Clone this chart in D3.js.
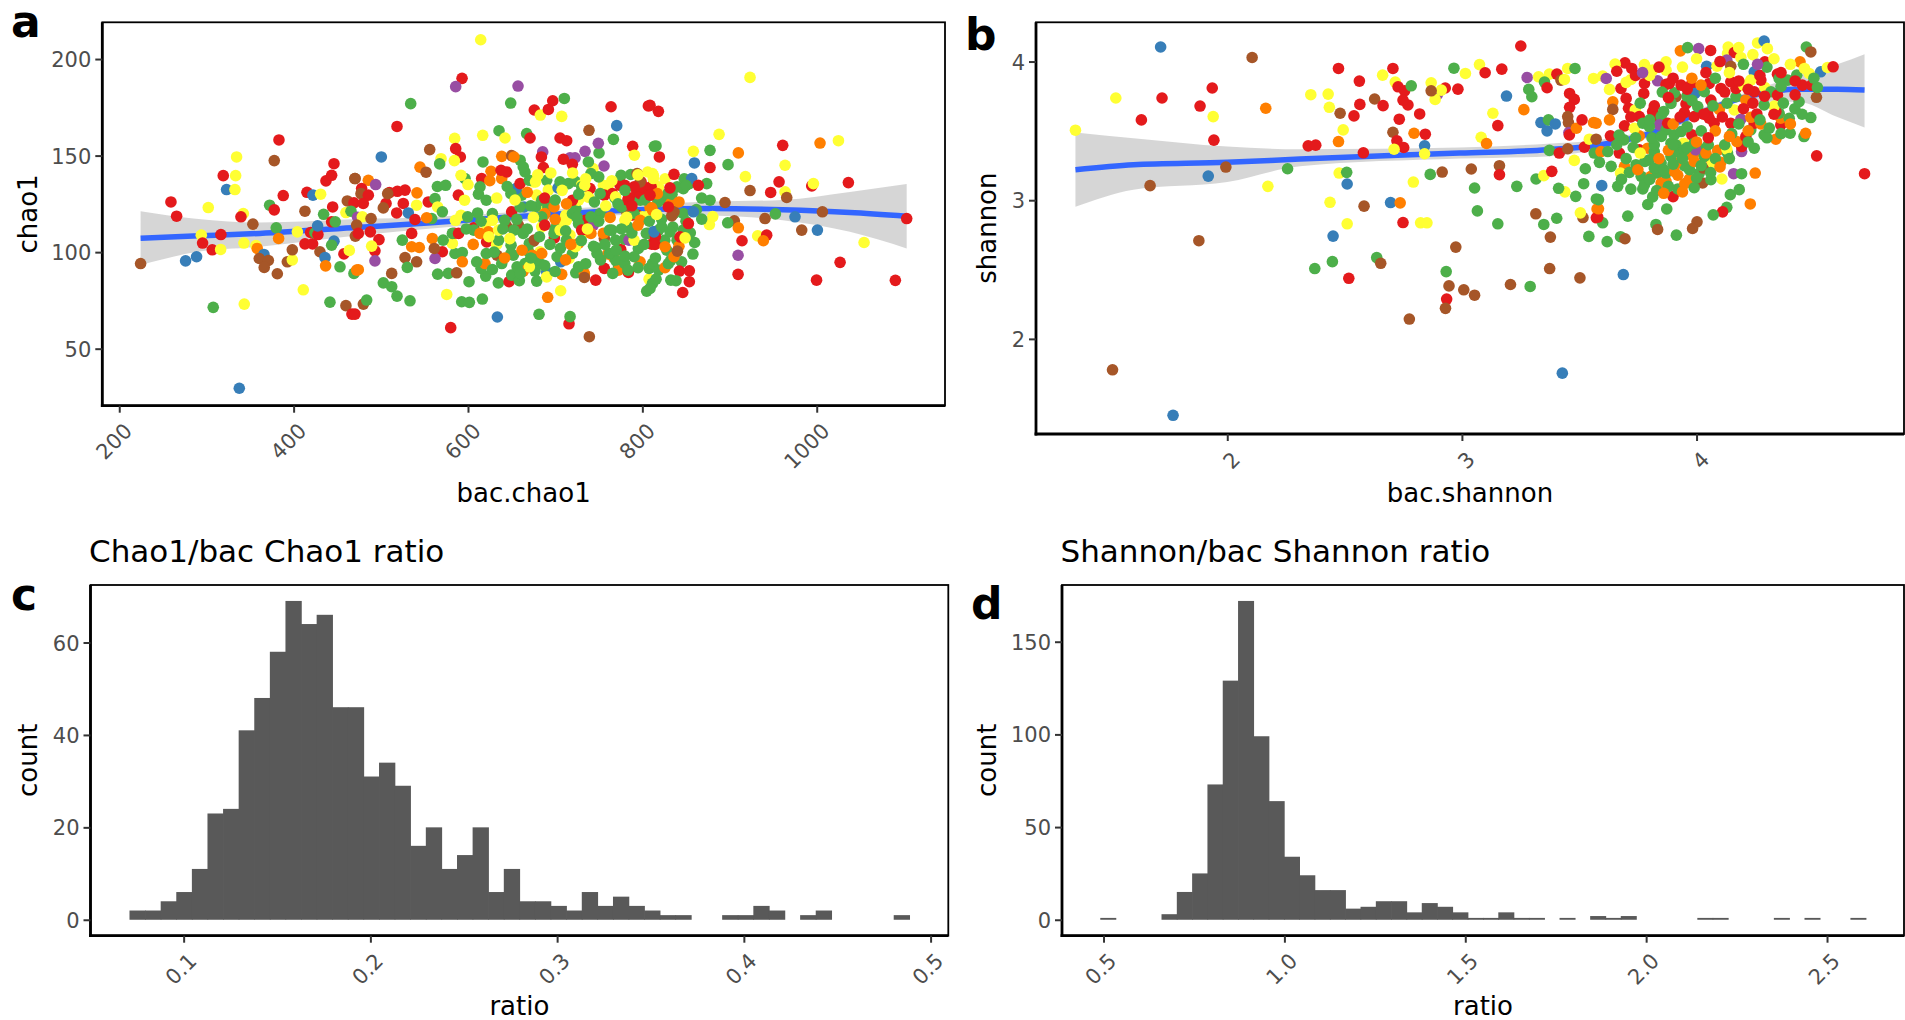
<!DOCTYPE html>
<html>
<head>
<meta charset="utf-8">
<script src="https://cdn.jsdelivr.net/npm/d3@7"></script>
<style>
  body { margin: 0; background: #fff; }
  svg { display: block; }
</style>
</head>
<body>
<svg id="fig" width="1905" height="1020"></svg>
<script>
// Sample groups share the ColorBrewer Set1 colours
const groupColors = ["#E41A1C", "#377EB8", "#4DAF4A", "#984EA3", "#FF7F00", "#FFFF33", "#A65628"];

// Panel a: [bac.chao1, chao1, group]
const chaoPoints = [
[224.5,94.1,6],[259.3,126.0,0],[265.8,118.6,0],[276.1,95.5,1],[288.7,97.6,1],[302.1,123.1,5],[294.1,108.8,5],[295.6,104.7,0],[306.7,101.2,0],[316.3,101.4,5],[316.6,109.1,0],[307.8,71.4,2],[319.3,139.6,0],[323.1,132.4,1],[334.6,149.3,5],[333.5,139.6,5],[332.7,132.4,5],[342.3,120.0,5],[339.6,118.3,0],[343.0,104.7,5],[343.4,73.1,5],[337.7,29.5,1],[383.2,158.1,0],[377.8,147.4,6],[388.1,129.3,0],[353.3,114.5,6],[356.8,103.4,5],[358.3,101.9,4],[366.0,98.8,1],[360.6,96.7,6],[371.0,95.7,6],[366.3,92.1,6],[372.5,124.3,2],[377.8,121.9,0],[380.1,112.6,2],[382.8,107.1,4],[381.3,88.8,6],[392.8,95.0,6],[398.5,96.0,5],[398.5,101.2,6],[404.3,110.5,5],[411.1,80.5,5],[413.0,121.2,6],[415.3,131.0,0],[422.2,129.5,1],[431.0,130.0,5],[413.0,104.3,0],[421.8,104.3,0],[419.5,110.2,0],[424.5,110.0,2],[427.9,109.1,0],[427.5,113.6,1],[430.2,100.2,6],[436.0,97.2,1],[436.7,92.9,4],[441.7,74.1,2],[437.1,136.9,0],[443.6,139.8,0],[446.3,145.8,0],[444.8,123.4,0],[434.4,119.6,2],[443.6,115.7,0],[447.8,115.7,2],[446.3,105.7,1],[443.6,103.6,2],[453.2,92.4,2],[457.7,99.1,0],[463.9,100.9,5],[460.0,72.3,6],[466.9,67.9,0],[461.6,126.5,6],[469.2,125.5,0],[470.4,138.1,6],[460.0,120.5,5],[465.8,121.2,2],[470.8,108.3,6],[469.2,89.0,2],[472.3,90.7,4],[473.4,118.1,3],
[614.6,210.0,5],[593.2,190.0,0],[585.9,185.7,3],[657.4,186.0,3],[534.3,176.9,2],[649.0,177.2,2],[518.6,165.1,0],[676.1,173.6,0],[683.0,171.0,5],[692.2,173.9,0],[697.2,178.4,0],[710.5,179.6,2],[707.5,170.3,5],[764.1,175.3,0],[806.9,175.7,0],[770.6,165.5,1],[766.8,158.4,2],[738.8,163.1,6],[635.6,162.9,2],[642.5,159.1,5],[667.3,161.4,2],[671.2,159.1,0],[584.7,158.9,5],[616.9,160.5,5],[585.9,153.6,0],[591.2,149.3,0],[584.4,147.4,5],[569.1,148.4,5],[567.5,145.7,2],[556.1,153.1,6],[500.6,149.3,1],[545.0,144.0,4],[551.9,141.4,6],[617.2,146.7,2],[638.7,149.6,4],[650.1,150.0,6],[705.6,159.1,0],[713.2,157.7,0],[685.7,151.9,3],[684.2,149.3,0],[686.5,143.8,0],[717.0,148.8,3],[722.8,148.8,3],[719.7,145.5,0],[734.3,152.2,3],[750.3,151.4,2],[749.5,156.4,3],[756.0,144.6,3],[743.4,143.3,5],[709.4,148.1,0],[788.9,154.8,0],[790.9,150.2,5],[813.8,154.8,2],
[615.7,138.1,0],[626.4,141.9,4],[638.7,138.1,4],[637.9,142.4,0],[644.4,141.5,0],[596.6,138.1,2],[592.0,139.8,5],[564.9,134.0,2],[574.4,134.6,2],[509.8,130.8,0],[519.0,131.5,0],[527.8,132.1,0],[525.8,125.2,0],[518.2,120.3,0],[506.0,125.2,0],[507.9,130.3,6],[541.5,130.7,4],[541.1,124.3,5],[502.9,122.9,6],[531.6,120.3,1],[554.5,126.0,0],[562.2,127.7,2],[565.2,123.4,5],[592.0,119.1,5],[589.0,129.5,0],[570.6,120.9,2],[558.4,117.4,2],[552.6,117.8,4],[539.2,116.9,0],[535.4,109.7,0],[524.7,106.2,2],[488.0,110.5,0],[497.9,106.5,0],[493.3,100.7,0],[493.3,95.5,3],[489.5,103.1,5],[474.2,90.9,4],[480.0,73.1,6],[483.8,75.2,2],[470.4,67.9,0],[535.4,102.8,4],[544.2,102.4,4],[527.8,97.2,6],[541.1,95.0,6],[530.4,92.1,2],[512.5,89.0,6],[502.9,84.1,2],[512.5,82.1,2],[518.6,77.2,2],[533.5,74.8,2],[559.1,107.1,4],[570.6,100.2,0],[562.2,96.7,3],[561.4,101.9,6],[565.2,88.6,2],[577.5,89.0,2],[587.0,89.3,6],[575.6,78.1,5],[592.8,74.3,2],[601.6,74.0,2],[616.5,75.7,2],[633.7,66.4,1],[580.2,60.9,0],[601.2,84.7,2],[620.3,87.6,2],[615.0,91.6,2],[619.5,94.1,4],[585.1,99.3,2],[582.1,104.5,5],[584.4,109.8,0],[593.5,99.8,2],[593.5,95.0,4],[606.5,112.6,0],[611.1,120.3,2],[620.3,114.8,5],[621.4,105.3,0],[632.9,104.0,5],[633.3,98.4,6],[634.8,84.1,2],[623.4,110.5,4],[644.4,113.4,6],[657.8,114.0,6],[649.4,103.6,2],[652.0,98.4,2],[647.1,84.7,0],[650.1,88.1,2],[658.9,85.2,2],[665.4,94.1,2],[663.5,90.2,4],[676.9,90.2,2],[678.8,85.0,2],[690.3,89.8,1],[690.3,87.2,5],[691.4,76.6,4],[681.5,67.8,2],[715.9,62.9,0],[717.1,66.6,2],[739.2,56.2,6],[706.3,80.0,5],[707.5,88.5,4],[723.6,89.3,2],[733.5,89.0,4],[733.5,86.9,6],[746.5,85.5,0],[756.4,91.6,0],[772.5,93.3,2],[772.5,90.7,4],[784.0,89.5,0],[797.4,95.0,4],[805.0,79.8,2],[807.7,86.0,5],[807.7,91.6,2],[760.3,99.1,4],[766.8,97.4,4],[746.5,102.4,2],[775.2,101.4,0],[779.4,106.7,2],[784.7,106.2,3],[795.4,101.9,2],[756.4,107.1,6],[764.9,111.4,2],[755.3,109.7,4],[699.1,107.4,0],[715.1,107.4,2],[715.9,96.7,5],[717.0,108.8,5],[732.3,109.7,5],[734.3,116.5,0],[743.8,114.0,3],[723.9,122.6,2],[711.3,117.8,2],[705.6,115.7,5],[712.1,119.1,5],[696.0,124.3,2],[684.6,123.4,5],[664.3,123.4,1],[650.1,120.9,0],[661.6,129.5,2],[655.1,132.9,1],[659.7,135.5,0],[665.4,141.5,2],[675.0,136.4,5],[678.8,129.5,5],[690.3,137.2,2],[692.2,132.1,5],[703.3,133.3,1],[705.6,136.4,2],[715.1,135.5,2],[722.8,136.7,2],[730.4,134.8,5],[738.1,128.6,5],[740.0,132.9,0],[738.1,146.7,2],[755.3,134.6,5],[761.0,134.6,5],[756.4,129.5,0],[774.4,134.6,0],[775.6,139.8,2],[786.6,140.2,2],[768.7,128.1,2],[784.0,128.1,0],[790.9,128.6,0],[797.4,132.1,2],[798.5,136.4,0],[806.1,141.5,5],[812.6,139.8,5],[794.7,119.1,0],[787.8,119.1,0],[780.9,121.7,6],[808.8,123.1,4],[800.0,118.3,5],[806.9,109.7,2],[812.6,110.5,1],[810.7,104.1,0],[726.6,104.5,4],[699.8,112.2,2],[687.2,119.1,4],[682.6,100.2,5],[669.2,100.5,2],[675.0,105.7,6],[706.3,95.0,1],[682.6,94.1,2],[673.8,98.4,4],
[470.4,138.1,6],[485.7,137.2,4],[494.1,135.0,3],[478.0,132.9,0],[477.3,130.3,6],[485.7,129.5,0],[479.9,125.2,0],[478.8,118.3,5],[488.8,117.4,6],[472.3,114.0,6],[474.2,109.7,0],
[613.8,133.8,2],[621.0,126.9,2],[596.1,126.9,5],[628.0,120.0,2],[628.0,116.5,5],[649.2,130.3,2],[659.8,147.6,2],[652.7,149.3,4],[663.4,144.1,2],[670.4,137.2,2],[677.5,136.4,5],[684.6,126.9,2],[691.6,123.4,2],[684.6,113.1,5],[663.4,109.7,2],[670.4,104.5,2],[676.1,106.2,6],[698.7,109.7,2],[705.7,111.4,5],[712.8,116.5,5],[719.8,120.0,2],[730.4,133.8,2],[733.9,134.6,5],[741.0,140.7,2],[751.6,120.0,2],[762.2,111.4,2],[769.3,106.2,2],[783.4,113.1,2],[776.3,123.4,2],[790.5,120.0,2],[804.6,109.7,2],[797.5,126.9,2],[811.6,140.7,5],[818.6,133.8,5],[825.7,126.9,2],[829.2,130.3,2],[839.8,133.8,2],[853.9,135.5,2],[836.3,120.0,2],[818.6,111.4,2],[825.7,106.2,2],[846.9,120.0,2],[737.4,128.6,5],[726.8,126.9,5],[698.7,123.4,4],[741.0,109.7,4],[688.1,120.0,4],[719.8,126.9,0],[765.7,130.3,0],[779.9,134.6,0],[797.5,130.3,0],[801.0,133.8,0],[808.1,130.3,0],[797.5,136.4,6],[794.0,140.7,6],[815.1,128.6,4],[832.7,125.2,4],[836.3,120.9,6],[599.7,118.3,2],[606.7,111.4,2],[585.6,116.5,5],[582.1,109.7,2],[571.5,106.2,2],[589.2,109.7,0],[635.1,106.2,2],[649.2,99.3,2],[621.0,99.3,2],[638.7,94.1,2],[656.3,92.4,2],[677.5,95.9,2],[670.4,92.4,5],[684.6,99.3,4],[702.2,97.6,2],[719.8,99.3,2],[723.3,102.8,5],[726.8,92.4,2],[748.0,99.3,2],[769.3,95.9,2],[762.2,99.3,2],[779.9,94.1,2],[783.4,90.7,2],[790.5,97.6,2],[811.6,94.1,2],[818.6,90.7,2],[832.7,95.9,2],[832.7,85.5,2],[811.6,83.8,2],[839.8,106.2,2],[846.9,111.4,2],[790.5,106.2,5],[804.6,118.3,5],[779.9,116.5,5],[769.3,128.6,5],[783.4,126.9,0],[790.5,133.8,0],[811.6,121.7,4],[797.5,116.5,4],[751.6,130.3,2],[741.0,118.3,2],[726.8,114.8,2],[730.4,111.4,0],[712.8,106.2,2],[684.6,118.3,2],[677.5,123.4,2],[659.8,123.4,2],[642.1,116.5,2],[652.7,111.4,2],[635.1,111.4,5],[613.8,109.7,4],
[600,135,5],[612,130,2],[625,137,4],[633,128,5],[645,134,2],[654,127,5],[668,131,4],[672,124,2],[680,140,5],[688,128,0],[695,141,5],[700,127,2],[708,132,5],[713,125,4],[720,141,5],[727,130,2],[735,138,5],[745,126,2],[750,139,2],[758,124,5],[765,137,5],[772,125,2],[780,132,2],[788,124,0],[795,140,5],[803,127,2],[810,134,0],[818,126,2],[826,138,5],[834,130,2],[842,126,4],[848,138,2],
[598,112,2],[606,104,4],[615,116,2],[624,108,5],[630,100,2],[640,112,2],[648,107,5],[656,117,2],[662,101,4],[668,112,2],[675,118,5],[682,108,2],[688,114,0],[694,104,2],[700,117,4],[706,102,2],[712,111,2],[718,104,4],[725,118,2],[730,106,2],[737,112,5],[744,103,2],[750,116,2],[757,104,2],[763,118,4],[770,101,2],[776,112,2],[782,118,5],[788,110,2],[795,114,4],[802,104,2],[808,116,2],[815,108,0],[822,117,2],[828,101,2],[835,113,2],[842,103,4],[850,116,2],
[610,95,2],[628,91,2],[642,97,4],[660,89,2],[672,97,2],[688,93,2],[700,90,2],[712,96,4],[735,94,2],[752,96,2],[766,89,2],[780,98,2],[795,92,2],[815,97,2],[826,92,4],[845,95,2],[860,105,2],[862,122,2],[868,128,2],[855,110,2],[858,99,2],
[923.5,190.5,5],[808.8,176.0,0],[818.4,172.9,0],[888.0,161.0,5],[1003.8,156.5,4],[1024.9,157.7,5],[961.0,155.3,0],[877.6,152.7,2],[858.5,152.2,5],[859.7,146.2,1],[877.6,143.8,0],[898.3,145.3,2],[910.1,151.4,4],[815.7,155.0,2],[819.5,149.3,0],[963.7,145.0,5],[918.2,139.1,5],[956.8,136.4,0],[947.2,130.9,0],[923.5,131.9,6],[963.7,131.2,5],[965.6,128.3,6],[994.3,134.3,0],[996.2,135.5,5],[1036.3,136.0,0],[856.6,138.1,1],[873.8,135.5,2],[864.2,134.6,0],[836.3,140.3,0],[831.7,133.3,0],[894.8,125.7,6],[877.6,126.9,2],[1006.5,120.9,6],[975.1,118.3,1],[952.6,119.8,2],[940.7,117.4,6],[905.5,116.2,6],[897.9,115.2,2],[910.1,112.6,4],[876.9,114.3,5],[880.7,118.4,5],[868.1,117.1,2],[858.5,120.9,1],[833.7,118.8,6],[982.8,111.4,6],[1000.8,111.4,1],[914.3,105.9,0],[932.3,108.4,5],[942.6,108.8,0],[938.8,105.9,4],[1054.3,105.0,5],[909.8,98.4,3],[909.8,88.5,0],[1026.8,94.7,0],[999.8,85.5,0],[1090.2,85.4,0],[1103.2,117.4,0],[842.5,90.2,0],[853.9,90.3,0],[853.9,84.7,0],[846.3,79.1,0],[838.6,85.2,2],[815.7,86.0,2],[829.8,94.1,2],[836.3,97.6,4],[840.2,100.5,6],[843.2,107.9,0],[849.0,107.4,5],[814.5,104.0,0],[813.4,110.5,1],[822.2,113.1,2],[831.7,110.5,2],[826.0,102.8,4],[852.8,114.8,0],[847.0,132.9,2],[850.1,134.6,2],[817.2,130.3,4],[812.6,138.1,5],[808.8,129.5,0],[829.8,123.4,0],[810.7,122.9,4],[816.4,119.5,5],[808.8,81.2,2]
];

// Panel b: [bac.shannon, shannon, group]
const shannonPoints = [
[1.716,4.105,1],[2.106,4.029,6],[1.525,3.737,5],[1.722,3.737,0],[1.936,3.809,0],[1.884,3.679,0],[1.940,3.603,5],[1.634,3.579,0],[1.353,3.505,5],[1.943,3.433,0],[2.164,3.663,4],[1.994,3.239,6],[1.919,3.174,1],[1.671,3.105,6],[2.173,3.100,5],[2.257,3.227,2],[1.879,2.708,6],[1.511,1.777,6],[1.769,1.449,1],
[3.251,4.112,0],[2.474,3.950,0],[2.706,3.950,0],[2.966,3.952,2],[3.075,3.978,5],[3.099,3.919,0],[3.015,3.914,5],[3.170,3.945,0],[2.563,3.859,0],[2.662,3.902,5],[2.356,3.761,5],[2.430,3.765,5],[2.435,3.670,5],[2.481,3.627,6],[2.565,3.691,0],[2.540,3.608,0],[2.494,3.507,5],[2.474,3.423,4],[2.345,3.392,0],[2.377,3.397,0],[2.580,3.342,0],[2.477,3.196,5],[2.509,3.201,2],[2.511,3.117,1],[2.438,2.985,5],[2.583,2.957,6],[2.511,2.830,5],[2.451,2.741,1],[2.373,2.507,2],[2.448,2.557,2],[2.518,2.437,0],[2.637,2.586,2],[2.654,2.545,6],[2.716,3.852,5],[2.728,3.818,0],[2.756,3.789,0],[2.784,3.825,2],[2.770,3.687,0],[2.749,3.722,0],[2.628,3.730,6],[2.664,3.682,0],[2.820,3.622,0],[2.733,3.584,0],[2.706,3.490,6],[2.723,3.428,0],[2.752,3.380,0],[2.711,3.368,5],[2.796,3.483,4],[2.844,3.476,0],[2.841,3.392,1],[2.841,3.335,5],[2.869,3.847,5],[2.929,3.809,0],[2.895,3.761,3],[2.886,3.727,5],[2.912,3.794,5],[2.983,3.801,0],[2.869,3.789,6],[2.793,3.131,5],[2.865,3.186,2],[2.916,3.203,6],[3.040,3.225,6],[3.160,3.249,6],[3.160,3.184,0],[3.054,3.088,2],[3.066,2.923,2],[3.153,2.830,2],[3.234,3.100,2],[2.696,2.983,1],[2.737,2.981,4],[2.749,2.839,0],[2.824,2.837,5],[2.851,2.837,5],[2.974,2.662,6],[2.933,2.485,2],[2.945,2.382,6],[3.008,2.354,6],[3.054,2.315,6],[2.935,2.287,0],[2.930,2.220,6],[2.776,2.143,6],[3.207,2.392,6],[3.291,2.378,2],[3.374,2.507,6],[3.503,2.440,6],[3.315,2.902,6],[3.349,2.825,2],[3.404,2.870,2],[3.377,2.734,6],[3.541,2.739,2],[3.516,2.875,6],[3.505,2.909,5],[3.573,2.873,0],[3.428,1.753,1],[3.082,3.454,5],[3.105,3.409,4],[3.153,3.538,0],[3.132,3.627,5],[3.190,3.751,1],[3.264,3.653,4],[3.278,3.885,3],[3.327,3.890,5],[3.373,3.909,5],[3.352,3.852,2],[3.363,3.811,0],[3.405,3.909,0],[3.422,3.866,6],[3.451,3.950,5],[3.437,3.871,5],[3.482,3.950,2],[3.285,3.799,2],[3.298,3.746,2],[3.337,3.560,1],[3.363,3.500,1],[3.369,3.579,2],[3.398,3.550,1],[3.459,3.770,0],[3.479,3.727,0],[3.459,3.670,0],[3.451,3.603,6],[3.454,3.560,6],[3.456,3.488,3],[3.458,3.471,0],[3.488,3.519,4],[3.512,3.579,0],[3.561,3.560,4],[3.561,3.878,5],[3.373,3.359,2],[3.415,3.340,0],[3.451,3.371,6],[3.522,3.383,0],[3.479,3.287,5],[3.543,3.440,5],[3.526,3.227,2],[3.519,3.119,2],[3.485,3.028,2],[3.439,3.060,5],[3.412,3.086,2],[3.316,3.153,2],[3.349,3.177,5],[3.383,3.208,0],[3.564,3.340,2],[3.573,3.009,2],[3.576,2.937,4],
[3.688,2.464,1],[4.716,3.191,0],[4.512,3.320,0],[4.229,2.973,4],[4.250,3.196,4],[4.158,3.191,3],[4.192,3.191,2],[4.108,3.153,5],[4.144,3.040,2],[4.182,3.076,2],[4.129,2.949,2],[4.111,2.916,0],[4.071,2.894,2],[4.002,2.844,6],[3.983,2.796,6],[3.914,2.748,2],[3.827,2.825,2],[3.834,2.789,6],[3.873,2.937,2],[3.792,2.969,2],[3.813,3.024,2],[3.900,3.026,0],[3.707,2.885,2],[3.676,2.737,2],[3.695,2.722,6],[3.619,2.701,2],[3.600,2.837,2],[3.579,2.878,0],[3.582,2.938,4],[3.582,3.004,2],[3.596,3.105,1],[3.664,3.100,2],[3.771,3.081,2],[3.920,3.081,2],[4.026,3.124,6],[4.061,3.148,2],[4.487,3.596,2],[4.458,3.459,2],[4.465,3.483,4],[4.338,3.440,4],[4.399,3.483,2],[4.419,3.660,2],[4.437,3.710,2],[4.511,3.742,6],[4.490,3.830,0],[4.451,3.830,0],[4.480,3.914,5],[4.529,3.926,1],[4.558,3.957,5],[4.582,3.962,0],[4.515,3.813,2],[4.441,3.998,4],[4.468,4.105,2],[4.487,4.069,6],[4.427,3.902,2],[3.931,4.077,4],[3.962,4.100,2],[4.009,4.093,3],[4.135,4.105,5],[4.132,4.057,5],[4.161,4.065,0],[4.129,4.010,3],[4.189,4.029,5],[4.260,4.134,5],[4.288,4.148,1],[4.302,4.093,5],[4.291,3.998,0],[4.043,3.966,1],[4.087,3.966,5],[4.146,3.966,6],[4.246,3.926,1],[4.345,3.909,0],[3.870,3.998,5],[3.870,3.938,5],[3.778,3.978,5],[3.813,3.938,5],[3.695,3.990,0],[3.653,3.981,5],[3.724,3.950,0],[3.600,3.895,5],[3.615,3.878,3],[3.721,3.871,5],[3.778,3.842,0],[3.775,3.770,0],[3.834,3.861,3],[3.870,3.835,0],[3.854,3.780,2],[3.629,3.799,5],[3.678,3.806,0],[3.643,3.710,4],[3.643,3.655,6],[3.700,3.734,0],[3.710,3.663,0],[3.739,3.651,5],[3.756,3.603,0],[3.572,3.555,4],[3.629,3.579,4],[3.693,3.536,0],[3.633,3.464,0],[3.572,3.440,6],[3.690,3.435,2],[3.756,3.464,4],[3.735,3.519,5],[3.771,3.555,2],[3.593,3.351,4],[3.622,3.351,2],[3.671,3.340,0],[3.586,3.273,2],[3.636,3.244,2],[3.693,3.244,4],[3.676,3.196,5],[3.714,3.201,2],[3.742,3.256,2],[3.756,3.363,0],[3.792,3.375,4],[3.820,3.351,2],[3.799,3.292,2],[3.764,3.172,2],[3.778,3.112,2],[3.806,3.172,4],[3.834,3.196,2],[3.849,3.124,4],[3.870,3.136,4],[3.870,3.196,2],[3.905,3.208,4],[3.948,3.249,2],[3.912,3.268,4],[3.891,3.316,2],[3.976,3.328,4],[3.945,3.411,5],[3.919,3.352,2],[3.990,3.340,4],[3.969,3.153,4],[4.012,3.196,2],[4.030,3.232,6],[4.061,3.296,4],[4.090,3.359,4],[4.068,3.275,5],[4.104,3.273,4],[4.033,3.316,2],[4.012,3.375,2],[3.996,3.363,3],[4.132,3.340,2],[4.129,3.368,5],[4.192,3.351,3],[4.192,3.387,0],[4.246,3.375,2],[4.172,3.423,4],[4.210,3.459,0],[4.231,3.507,2],[4.246,3.555,0],[4.288,3.471,2],[4.274,3.550,4],[4.359,3.543,0],[4.359,3.591,4],[4.395,3.591,2],[4.352,3.627,2],[4.338,3.639,0],[4.189,3.584,3],[4.231,3.598,4],[4.257,3.622,0],[4.161,3.651,5],[4.146,3.555,0],[4.168,3.746,2],[4.210,3.722,4],[4.168,3.806,0],[4.246,3.782,0],[4.200,3.830,5],[4.146,3.854,0],[4.291,3.813,5],[4.317,3.782,2],[4.345,3.758,0],[4.331,3.679,5],[4.288,3.687,2],[4.274,3.866,0],[4.231,3.866,5],[4.388,3.866,2],[4.352,3.878,2],[4.104,3.806,0],[4.061,3.722,0],[4.097,3.655,4],[4.047,3.627,0],[4.075,3.555,0],[4.054,3.591,0],[3.990,3.603,0],[4.005,3.675,2],[3.955,3.694,0],[3.948,3.632,0],[3.959,3.751,2],[3.912,3.746,6],[3.905,3.775,2],[3.934,3.830,0],[3.976,3.830,0],[3.993,3.770,1],[4.054,3.842,0],[4.033,3.782,2],[4.019,3.830,4],[3.884,3.842,0],[3.891,3.698,2],[3.813,3.639,0],[3.827,3.603,0],[3.849,3.603,2],[3.842,3.543,3],[3.870,3.507,2],[3.905,3.471,2],[3.934,3.495,2],[3.877,3.555,0],[3.799,3.531,2],[3.912,3.399,2],[3.980,3.471,0],[3.891,3.411,2],[3.948,3.363,2],[3.849,3.268,2],[3.820,3.232,2],[3.990,3.411,2],
[3.70,3.30,2],[3.73,3.38,2],[3.75,3.22,4],[3.78,3.28,2],[3.80,3.15,2],[3.82,3.40,2],[3.84,3.30,4],[3.86,3.22,2],[3.88,3.36,4],[3.88,3.10,2],[3.90,3.26,2],[3.92,3.18,4],[3.94,3.30,2],[3.95,3.12,4],[3.97,3.22,2],[3.99,3.28,4],[4.00,3.16,2],[4.02,3.25,2],[4.04,3.34,4],[4.06,3.20,2],[4.08,3.30,2],[4.10,3.24,4],[4.12,3.40,2],[4.14,3.30,2],[3.66,3.40,2],[3.68,3.15,2],[3.72,3.08,2],[3.76,3.34,5],[3.83,3.07,2],[3.86,3.05,4],[3.90,3.40,2],[3.96,3.38,2],[4.00,3.42,4],[4.05,3.40,2],[3.94,3.06,4],[3.99,3.09,2],[3.81,3.45,2],[3.85,3.46,2],[3.74,3.45,2],[3.67,3.47,2],
[3.72,3.60,0],[3.76,3.70,2],[3.80,3.58,2],[3.82,3.68,0],[3.86,3.64,2],[3.88,3.74,0],[3.90,3.55,4],[3.93,3.60,0],[3.96,3.53,2],[3.98,3.72,2],[4.02,3.50,2],[4.03,3.62,0],[4.07,3.68,2],[4.08,3.50,4],[4.11,3.60,0],[4.13,3.70,2],[4.15,3.48,2],[4.18,3.55,2],[4.20,3.66,0],[4.22,3.50,4],[4.24,3.70,0],[4.27,3.58,2],[4.29,3.75,0],[4.31,3.52,2],[4.33,3.62,0],[4.37,3.70,2],[4.40,3.55,4],[4.42,3.76,0],[4.30,3.45,2],[4.22,3.42,2],[4.36,3.48,2],[4.45,3.62,2],[4.14,3.46,4],[4.05,3.45,0],
[3.66,3.93,0],[3.70,3.85,5],[3.74,3.90,0],[3.80,3.90,5],[3.84,3.96,0],[3.90,3.88,0],[3.94,3.96,5],[3.98,3.88,4],[4.00,4.02,5],[4.04,3.92,0],[4.08,3.88,2],[4.10,4.00,0],[4.14,3.92,5],[4.18,3.86,0],[4.20,3.98,2],[4.24,4.05,5],[4.27,3.90,0],[4.30,3.96,2],[4.33,4.02,5],[4.36,3.92,0],[4.40,3.98,5],[4.42,3.86,0],[4.46,3.95,5],[4.50,3.88,2],[4.18,4.10,5],[4.22,3.80,0],[4.36,3.82,2],[3.96,3.80,0],[4.12,3.78,0],[3.77,3.92,3],[4.06,4.08,0],[4.26,3.98,3]
];

// Loess fits: [x, fit, lower, upper]
const chaoSmooth = [
[224.5,107.2,93.3,121.2],[285,108.3,99.8,117.4],[361,109.7,102.8,115.3],[476,112.9,108.8,117.1],[558,115.2,112.2,118.2],[640,117.9,115.4,120.4],[700,119.7,117.3,122.1],[804,122.1,119.4,124.8],[880,122.6,119.0,126.2],[961,121.9,116.5,127.0],[1038,120.5,110.5,131.2],[1103.2,118.6,101.9,135.3]
];
const shannonSmooth = [
[1.353,3.220,2.952,3.488],[1.6,3.256,3.076,3.447],[2.0,3.273,3.131,3.387],[2.31,3.297,3.244,3.368],[2.99,3.340,3.300,3.380],[3.365,3.364,3.316,3.407],[3.564,3.393,3.360,3.430],[3.8,3.480,3.450,3.510],[4.0,3.620,3.590,3.650],[4.2,3.740,3.710,3.770],[4.43,3.800,3.710,3.895],[4.6,3.800,3.600,3.980],[4.716,3.795,3.524,4.053]
];

// Histograms: 50 equal-width bins
const chaoRatioStart = 0.0710, chaoRatioWidth = 0.008352;
const chaoRatioCounts = [2,2,4,6,11,23,24,41,48,58,69,64,66,46,46,31,34,29,16,20,11,14,20,6,11,4,4,3,2,6,3,5,3,2,1,1,0,0,1,1,3,2,0,1,2,0,0,0,0,1];
const shannonRatioStart = 0.491, shannonRatioWidth = 0.04232;
const shannonRatioCounts = [1,0,0,0,3,15,25,73,129,172,99,64,34,24,16,16,6,7,10,10,4,9,7,4,1,1,4,1,1,0,1,0,2,1,2,0,0,0,0,1,1,0,0,0,1,0,1,0,0,1];

// Axis ticks
const chaoXTicks = [200, 400, 600, 800, 1000], chaoYTicks = [50, 100, 150, 200];
const shannonXTicks = [2, 3, 4], shannonYTicks = [2, 3, 4];
const chaoRatioXTicks = [0.1, 0.2, 0.3, 0.4, 0.5], chaoRatioYTicks = [0, 20, 40, 60];
const shannonRatioXTicks = [0.5, 1.0, 1.5, 2.0, 2.5], shannonRatioYTicks = [0, 50, 100, 150];

const svg = d3.select("#fig");
const FONT = "'DejaVu Sans', sans-serif";

function expand(ext, f = 0.05) {
  const d = ext[1] - ext[0];
  return [ext[0] - d * f, ext[1] + d * f];
}

function axes(g, x, y, box, o) {
  g.append("rect")
    .attr("x", box.left).attr("y", box.top)
    .attr("width", box.right - box.left).attr("height", box.bottom - box.top)
    .attr("fill", "none").attr("stroke", "#000").attr("stroke-width", 1.8);
  g.append("line").attr("x1", box.left).attr("x2", box.left)
    .attr("y1", box.top).attr("y2", box.bottom + 1.4)
    .attr("stroke", "#000").attr("stroke-width", 2.8);
  g.append("line").attr("x1", box.left - 1.4).attr("x2", box.right)
    .attr("y1", box.bottom).attr("y2", box.bottom)
    .attr("stroke", "#000").attr("stroke-width", 2.8);

  const ya = g.append("g").attr("transform", `translate(${box.left},0)`)
    .call(d3.axisLeft(y).tickValues(o.yTicks).tickFormat(o.yFmt).tickSize(7).tickPadding(4));
  ya.select(".domain").remove();
  ya.selectAll(".tick line").attr("stroke", "#333").attr("stroke-width", 2);
  ya.selectAll(".tick text").attr("fill", "#4D4D4D").attr("dy", "0.36em")
    .style("font-family", FONT).style("font-size", "21px");

  const xa = g.append("g").attr("transform", `translate(0,${box.bottom})`)
    .call(d3.axisBottom(x).tickValues(o.xTicks).tickFormat(o.xFmt).tickSize(7));
  xa.select(".domain").remove();
  xa.selectAll(".tick line").attr("stroke", "#333").attr("stroke-width", 2);
  xa.selectAll(".tick text").attr("fill", "#4D4D4D")
    .attr("x", 0).attr("y", 0).attr("dy", "0.72em")
    .attr("text-anchor", "end").attr("transform", "translate(3,16) rotate(-45)")
    .style("font-family", FONT).style("font-size", "21px");

  g.append("text").text(o.xTitle)
    .attr("x", (box.left + box.right) / 2).attr("y", o.xTitleY)
    .attr("text-anchor", "middle")
    .style("font-family", FONT).style("font-size", "26px").attr("fill", "#000");
  g.append("text").text(o.yTitle)
    .attr("transform", `translate(${o.yTitleX},${(box.top + box.bottom) / 2}) rotate(-90)`)
    .attr("text-anchor", "middle")
    .style("font-family", FONT).style("font-size", "26px").attr("fill", "#000");
}

function scatterPanel(pts, smooth, box, o) {
  const g = svg.append("g");
  const x = d3.scaleLinear().domain(expand(d3.extent(pts, d => d[0]))).range([box.left, box.right]);
  const yExt = [Math.min(d3.min(pts, d => d[1]), d3.min(smooth, d => d[2])),
                Math.max(d3.max(pts, d => d[1]), d3.max(smooth, d => d[3]))];
  const y = d3.scaleLinear().domain(expand(yExt)).range([box.bottom, box.top]);

  g.append("path").datum(smooth)
    .attr("d", d3.area().curve(d3.curveMonotoneX).x(d => x(d[0])).y0(d => y(d[2])).y1(d => y(d[3])))
    .attr("fill", "#999999").attr("fill-opacity", 0.4);
  g.append("path").datum(smooth)
    .attr("d", d3.line().curve(d3.curveMonotoneX).x(d => x(d[0])).y(d => y(d[1])))
    .attr("fill", "none").attr("stroke", "#3366FF").attr("stroke-width", 5.5);

  g.append("g").selectAll("circle").data(pts).join("circle")
    .attr("cx", d => x(d[0])).attr("cy", d => y(d[1])).attr("r", 5.8)
    .attr("fill", d => groupColors[d[2]]);

  axes(g, x, y, box, o);
}

function histPanel(start, width, counts, box, o) {
  const g = svg.append("g");
  const bins = counts.map((c, i) => ({ x0: start + i * width, x1: start + (i + 1) * width, n: c }));
  const x = d3.scaleLinear().domain(expand([start, start + counts.length * width])).range([box.left, box.right]);
  const y = d3.scaleLinear().domain(expand([0, d3.max(counts)])).range([box.bottom, box.top]);

  // bars are widened by a hair so neighbouring bins meet without seams
  g.append("g").selectAll("rect").data(bins.filter(b => b.n > 0)).join("rect")
    .attr("x", b => x(b.x0)).attr("width", b => x(b.x1) - x(b.x0) + 0.7)
    .attr("y", b => y(b.n)).attr("height", b => y(0) - y(b.n))
    .attr("fill", "#595959");

  axes(g, x, y, box, o);

  g.append("text").text(o.title)
    .attr("x", box.left - 1.5).attr("y", 562)
    .style("font-family", FONT).style("font-size", "31px").attr("fill", "#000");
}

scatterPanel(chaoPoints, chaoSmooth,
  { left: 102.3, right: 945, top: 22.3, bottom: 405.7 },
  { xTicks: chaoXTicks, yTicks: chaoYTicks, xFmt: d3.format("d"), yFmt: d3.format("d"),
    xTitle: "bac.chao1", yTitle: "chao1", xTitleY: 502, yTitleX: 37 });

scatterPanel(shannonPoints, shannonSmooth,
  { left: 1036, right: 1904, top: 22.3, bottom: 434 },
  { xTicks: shannonXTicks, yTicks: shannonYTicks, xFmt: d3.format("d"), yFmt: d3.format("d"),
    xTitle: "bac.shannon", yTitle: "shannon", xTitleY: 502, yTitleX: 996 });

histPanel(chaoRatioStart, chaoRatioWidth, chaoRatioCounts,
  { left: 90.5, right: 948.3, top: 585, bottom: 935.7 },
  { xTicks: chaoRatioXTicks, yTicks: chaoRatioYTicks, xFmt: d3.format(".1f"), yFmt: d3.format("d"),
    xTitle: "ratio", yTitle: "count", xTitleY: 1015, yTitleX: 37, title: "Chao1/bac Chao1 ratio" });

histPanel(shannonRatioStart, shannonRatioWidth, shannonRatioCounts,
  { left: 1062, right: 1904, top: 585, bottom: 935.7 },
  { xTicks: shannonRatioXTicks, yTicks: shannonRatioYTicks, xFmt: d3.format(".1f"), yFmt: d3.format("d"),
    xTitle: "ratio", yTitle: "count", xTitleY: 1015, yTitleX: 996, title: "Shannon/bac Shannon ratio" });

// Panel tags
[["a", 11, 37], ["b", 965, 50], ["c", 11, 610], ["d", 971, 619]].forEach(([t, x, y]) => {
  svg.append("text").text(t).attr("x", x).attr("y", y)
    .style("font-family", FONT).style("font-size", "44px").style("font-weight", "bold")
    .attr("fill", "#000");
});
</script>
</body>
</html>
